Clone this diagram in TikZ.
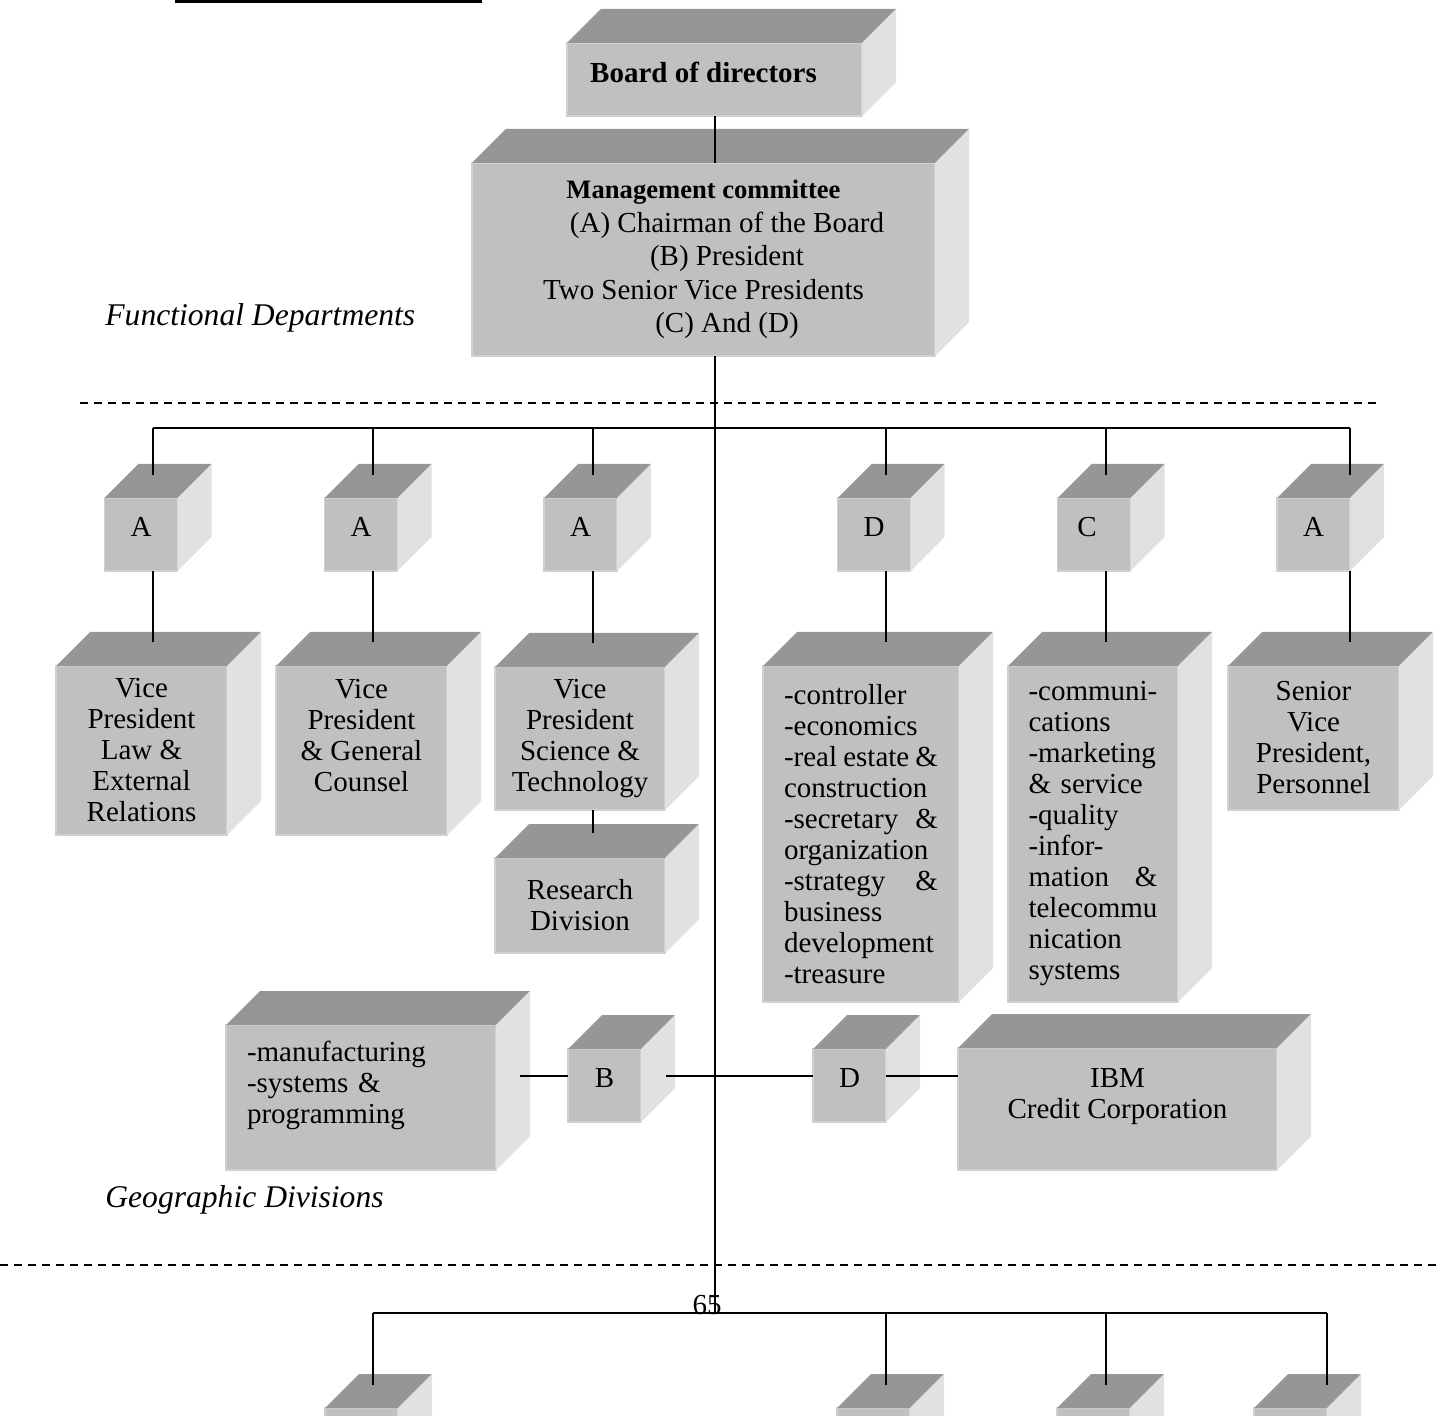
\documentclass[tikz,border=0pt]{standalone}
\usepackage{fontspec}
\setmainfont{Liberation Serif}
\definecolor{frontgray}{RGB}{192,192,192}
\definecolor{topgray}{RGB}{150,150,150}
\definecolor{sidegray}{RGB}{225,225,225}
\definecolor{edgegray}{RGB}{208,208,208}
\tikzset{
  face/.style={fill=frontgray, draw=edgegray, line width=0.6pt, inner sep=0pt, outer sep=0pt,
    font=\fontsize{14.5}{15.5}\selectfont, align=center},
  letter/.style={face, minimum width=36.5pt, minimum height=36.5pt, text depth=7.5pt},
  link/.style={line width=1pt},
  divider/.style={line width=0.8pt, dash pattern=on 4pt off 3pt},
  heading/.style={font=\fontsize{15.8}{18}\selectfont\itshape, anchor=west, inner sep=0pt}
}

\begin{document}
\begin{tikzpicture}[x=0.5pt, y=-0.5pt]
\useasboundingbox (0,0) rectangle (1439,1416);
\clip (0,0) rectangle (1439,1416);
\fill (175,0) rectangle (482,3);

% top of the chart
\node[face, minimum width=147.5pt, minimum height=36.5pt, text depth=7.5pt,
  font=\fontsize{14.5}{15.5}\selectfont\bfseries] (board) at (714.5,79.5) {Board of directors\hspace*{11pt}};
\node[face, minimum width=231.5pt, minimum height=96.5pt, font=\fontsize{14.5}{16.8}\selectfont] (mgmt) at (703.5,259.5)
  {{\fontsize{13.3}{16.8}\selectfont\bfseries Management committee}\\ \hspace*{23.5pt}(A) Chairman of the Board\\ \hspace*{23.5pt}(B) President\\
   Two Senior Vice Presidents\\ \hspace*{23.5pt}(C) And (D)};
\node[heading] (func) at (105,318) {Functional Departments};
\draw[divider] (80,403) -- (1378,403);

% functional departments
\node[letter] (a1) at (141,534.5) {A};
\node[letter] (a2) at (361,534.5) {A};
\node[letter] (a3) at (580.5,534.5) {A};
\node[letter] (d1) at (874,534.5) {D};
\node[letter] (c1) at (1094,534.5) {C\hspace*{7pt}};
\node[letter] (a4) at (1313.5,534.5) {A};

\node[face, minimum width=85.5pt, minimum height=84.5pt] (vp1) at (141.5,750.5)
  {Vice\\President\\Law \&\\External\\Relations};
\node[face, minimum width=85.5pt, minimum height=84.5pt] (vp2) at (361.5,750.5)
  {Vice\\President\\\& General\\Counsel\\~};
\node[face, minimum width=85pt, minimum height=71.5pt] (vp3) at (580,738.5)
  {Vice\\President\\Science \&\\Technology};
\node[face, minimum width=85pt, minimum height=47.5pt] (res) at (580,905.5) {Research\\Division};
\node[face, minimum width=98pt, minimum height=168pt, text width=77pt, align=left] (dl) at (861,834)
  {-controller\\-economics\\-real\hfill estate\hfill\&\\construction\\-secretary\hfill\&\\organization\\
   -strategy\hfill\&\\business\\development\\-treasure};
\node[face, minimum width=85pt, minimum height=168pt, text width=64.5pt, align=left] (cl) at (1093,834)
  {-communi-\\cations\\-marketing\\\& service\\-quality\\-infor-\\mation\hfill\&\\telecommu\\nication\\systems};
\node[face, minimum width=85.5pt, minimum height=72pt] (senior) at (1313.5,738)
  {Senior\\Vice\\President,\\Personnel};

% geographic divisions
\node[face, minimum width=135pt, minimum height=72.5pt, text width=114pt, align=left] (mfg) at (361,1097.5)
  {-manufacturing\\-systems \&\\programming\\~};
\node[letter] (b) at (604.5,1085.5) {B};
\node[letter] (d2) at (849.5,1085.5) {D};
\node[face, minimum width=159.5pt, minimum height=61pt] (ibm) at (1117.5,1109) {IBM\\Credit Corporation\\~};
\node[heading] (geo) at (105,1200) {Geographic Divisions};
\draw[divider] (0,1265) -- (1439,1265);

\node[letter] (g1) at (361.5,1444.5) {};
\node[letter] (g2) at (873.5,1444.5) {};
\node[letter] (g3) at (1093.5,1444.5) {};
\node[letter] (g4) at (1290.5,1444.5) {};

\foreach \n in {board,mgmt,a1,a2,a3,d1,c1,a4,vp1,vp2,vp3,res,dl,cl,senior,mfg,b,d2,ibm,g1,g2,g3,g4}{
  \fill[topgray] (\n.north west) -- ([shift={(34,-34)}]\n.north west)
    -- ([shift={(34,-34)}]\n.north east) -- (\n.north east) -- cycle;
  \fill[sidegray] (\n.north east) -- ([shift={(34,-34)}]\n.north east)
    -- ([shift={(34,-34)}]\n.south east) -- (\n.south east) -- cycle;
}

\node[anchor=base, inner sep=0pt, font=\fontsize{14.5}{15.5}\selectfont] (page) at (707,1314) {65};

% connectors
\coordinate (t1) at (153,428);
\coordinate (t2) at (373,428);
\coordinate (t3) at (593,428);
\coordinate (t4) at (886,428);
\coordinate (t5) at (1106,428);
\coordinate (t6) at (1350,428);
\coordinate (gy) at (715,1076);
\coordinate (s1) at (373,1313);
\coordinate (s2) at (886,1313);
\coordinate (s3) at (1106,1313);
\coordinate (s4) at (1327,1313);

\draw[link] (board.south) -- (board.south |- mgmt.north);
\draw[link] (board.south |- mgmt.south) -- (board.south |- s1);
\draw[link] (t1) -- (t6);
\foreach \t/\n/\m in {t1/a1/vp1, t2/a2/vp2, t3/a3/vp3, t4/d1/dl, t5/c1/cl, t6/a4/senior}{
  \draw[link, shorten >=11.5pt] (\t) -- (\t |- \n.north);
  \draw[link, shorten >=12pt] (\t |- \n.south) -- (\t |- \m.north);
}
\draw[link, shorten >=12.5pt] (t3 |- vp3.south) -- (t3 |- res.north);
\draw[link, shorten <=12pt] (mfg.east |- gy) -- (b.west |- gy);
\draw[link, shorten <=12.5pt] (b.east |- gy) -- (d2.west |- gy);
\draw[link] (d2.east |- gy) -- (ibm.west |- gy);
\draw[link] (s1) -- (s4);
\foreach \s/\n in {s1/g1, s2/g2, s3/g3, s4/g4}
  \draw[link, shorten >=11.5pt] (\s) -- (\s |- \n.north);
\end{tikzpicture}
\end{document}
